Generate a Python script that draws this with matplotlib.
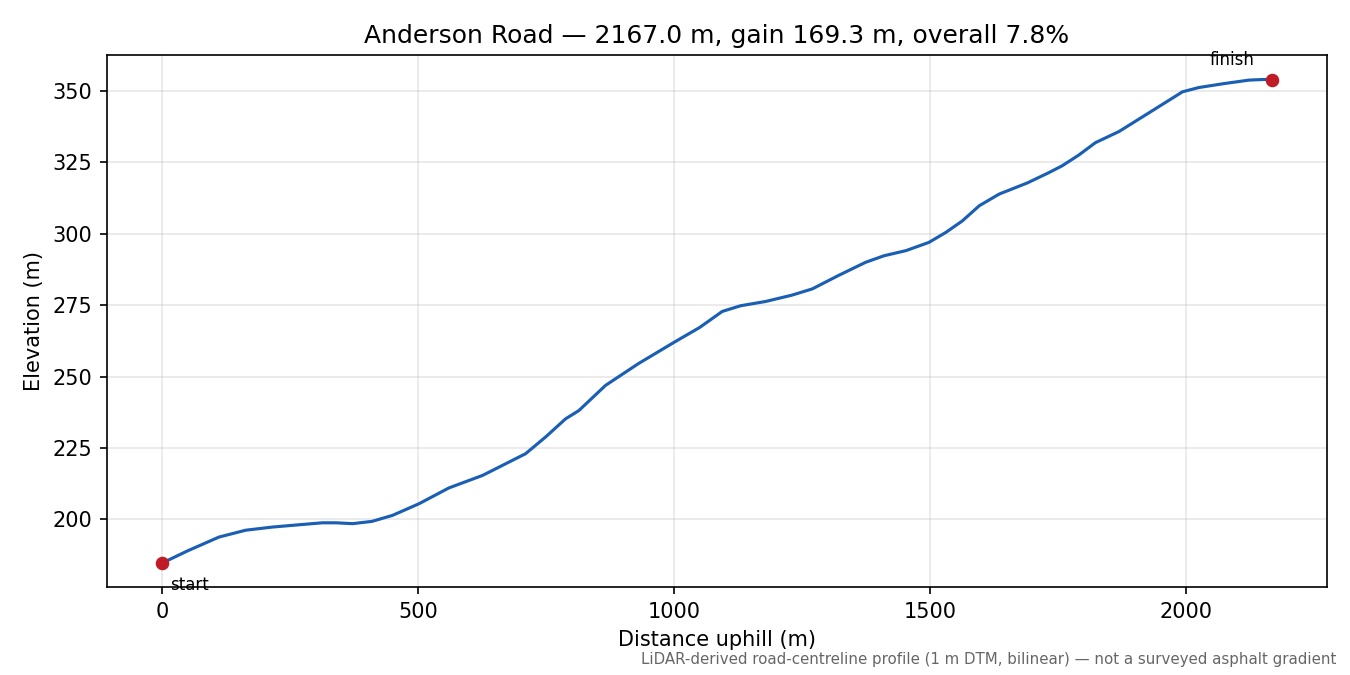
import matplotlib
matplotlib.use("Agg")
import matplotlib.pyplot as plt

# profile (distance from start, elevation)
distance = [0, 50, 111, 163, 215, 260, 313, 340, 372, 410, 450, 502, 560,
            626, 710, 750, 788, 814, 866, 930, 1000, 1050, 1094, 1130, 1179,
            1230, 1270, 1320, 1374, 1410, 1453, 1498, 1531, 1563, 1596, 1635,
            1690, 1732, 1758, 1790, 1823, 1869, 1928, 1993, 2025, 2075, 2123,
            2150, 2167]
elevation = [184.7, 189.0, 193.8, 196.2, 197.3, 198.0, 198.8, 198.8, 198.5,
             199.3, 201.4, 205.5, 211.0, 215.4, 223.0, 229.0, 235.2, 238.1,
             246.9, 254.5, 262.0, 267.2, 272.8, 274.8, 276.3, 278.5, 280.7,
             285.3, 290.0, 292.3, 294.1, 297.0, 300.5, 304.5, 309.8, 313.9,
             317.8, 321.4, 323.8, 327.5, 331.9, 335.8, 342.4, 349.7, 351.2,
             352.6, 353.8, 354.0, 354.0]

road = "Anderson Road"
length = distance[-1]
gain = elevation[-1] - elevation[0]
grade = gain / length * 100

fig, ax = plt.subplots(figsize=(9, 4.5), dpi=150)
fig.subplots_adjust(left=0.079, right=0.983, top=0.918, bottom=0.130)

ax.plot(distance, elevation, color="#1a5fb4", lw=1.5)
ax.plot([distance[0], distance[-1]], [elevation[0], elevation[-1]], "o",
        color="#c01c28", markersize=5.5)

ax.annotate("start", (distance[0], elevation[0]), xytext=(4, -6),
            textcoords="offset points", ha="left", va="top", fontsize=8)
ax.annotate("finish", (distance[-1], elevation[-1]), xytext=(-8, 5),
            textcoords="offset points", ha="right", va="bottom", fontsize=8)

ax.set_title(f"{road} \u2014 {length:.1f} m, gain {gain:.1f} m, overall {grade:.1f}%")
ax.set_xlabel("Distance uphill (m)")
ax.set_ylabel("Elevation (m)")
ax.grid(True, alpha=0.3)

fig.text(0.99, 0.012,
         "LiDAR-derived road-centreline profile (1 m DTM, bilinear) \u2014 not a surveyed asphalt gradient",
         ha="right", va="bottom", fontsize=7.2, color="#666666")

fig.savefig("out.png")
